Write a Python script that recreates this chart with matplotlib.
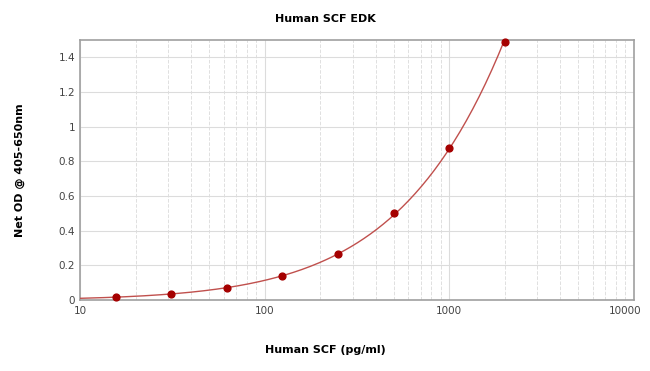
import numpy as np
import matplotlib
matplotlib.use('Agg')
from matplotlib import pyplot as plt
from matplotlib import ticker

# standard concentrations (pg/ml) and measured OD
conc = [15.6, 31.25, 62.5, 125, 250, 500, 1000, 2000]
od = [0.017, 0.037, 0.070, 0.140, 0.265, 0.500, 0.875, 1.490]

x_ticks = [10, 100, 1000, 10000]
y_ticks = [0, 0.2, 0.4, 0.6, 0.8, 1, 1.2, 1.4]

title = 'Human SCF EDK'
x_label = 'Human SCF (pg/ml)'
y_label = 'Net OD @ 405-650nm'

fig = plt.figure(figsize=(6.5, 3.71), dpi=100)
ax = fig.add_axes([0.123, 0.191, 0.852, 0.701])

# fitted standard curve (quadratic in log-log space through the standards)
coef = np.polyfit(np.log10(conc), np.log10(od), 2)
xs = np.logspace(1, np.log10(conc[-1]), 200)
ax.plot(xs, 10 ** np.polyval(coef, np.log10(xs)), color='#c0504d', lw=1, zorder=3)
ax.scatter(conc, od, s=24, color='#a50000', zorder=4, clip_on=False)

ax.set_xscale('log')
ax.set_xlim(10, 10000)
ax.set_ylim(0, 1.5)
ax.set_xticks(x_ticks)
# last label is drawn by hand so it can sit inside the figure
ax.xaxis.set_major_formatter(ticker.FuncFormatter(
	lambda v, p: '%d' % v if v < x_ticks[-1] else ''))
ax.xaxis.set_minor_locator(ticker.LogLocator(base=10, subs=np.arange(2, 10)))
ax.xaxis.set_minor_formatter(ticker.NullFormatter())
ax.set_yticks(y_ticks)
ax.yaxis.set_major_formatter(ticker.FuncFormatter(lambda v, p: '%g' % v))
ax.set_xlim(10, 10000)

ax.grid(True, which='major', color='#dcdcdc', lw=0.8, ls='-')
ax.grid(True, which='minor', axis='x', color='#e0e0e0', lw=0.7, ls='--')
ax.set_axisbelow(True)

for s in ax.spines.values():
	s.set_color('#a0a0a0')
	s.set_linewidth(1.2)
ax.tick_params(which='both', length=0, labelsize=7.5, labelcolor='#444444')
ax.tick_params(axis='x', pad=4)
ax.annotate('%d' % x_ticks[-1], xy=(x_ticks[-1], 0), xycoords=('data', 'axes fraction'),
	xytext=(-6, -4), textcoords='offset points', ha='center', va='top',
	fontsize=7.5, color='#444444')

fig.text(0.5, 0.95, title, ha='center', va='center', fontsize=8, fontweight='bold')
fig.text(0.5, 0.057, x_label, ha='center', va='center', fontsize=8, fontweight='bold')
fig.text(0.03, 0.54, y_label, ha='center', va='center', rotation=90, fontsize=8, fontweight='bold')

fig.savefig('out.png', dpi=100)
